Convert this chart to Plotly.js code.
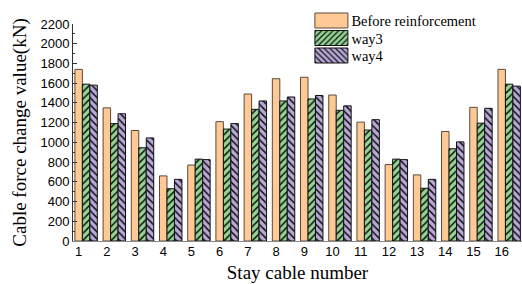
<!DOCTYPE html>
<html>
<head>
<meta charset="utf-8">
<script src="https://cdn.plot.ly/plotly-3.0.1.min.js"></script>
<style>html,body{margin:0;padding:0;background:#fff;}#chart{width:522px;height:284px;}</style>
</head>
<body>
<div id="chart"></div>
<script>
const cables = [1,2,3,4,5,6,7,8,9,10,11,12,13,14,15,16];
const before = [1740,1350,1120,660,770,1210,1490,1645,1660,1480,1205,775,670,1110,1355,1740];
const way3 = [1590,1190,945,530,830,1135,1335,1420,1440,1325,1125,830,535,935,1195,1590];
const way4 = [1580,1290,1045,625,825,1190,1420,1460,1475,1370,1230,825,625,1005,1345,1570];
const seriesNames = ['Before reinforcement','way3','way4'];
const tickLabels = cables.map(String);

const W = 0.265;
const traces = [
  {type:'bar', name:seriesNames[0], x:cables, y:before, width:W, offset:-W/2,
   marker:{color:'#FFC996', line:{color:'#5a4a3a', width:1}}},
  {type:'bar', name:seriesNames[1], x:cables, y:way3, width:W, offset:W/2,
   marker:{color:'#93D493', line:{color:'#111', width:1},
     pattern:{shape:'/', fgcolor:'#111', bgcolor:'#93D493', size:5, solidity:0.3}}},
  {type:'bar', name:seriesNames[2], x:cables, y:way4, width:W, offset:3*W/2,
   marker:{color:'#B8A8D8', line:{color:'#111', width:1},
     pattern:{shape:'\\', fgcolor:'#111', bgcolor:'#B8A8D8', size:5, solidity:0.3}}}
];

const serif = 'Liberation Serif, Times New Roman, serif';
const sans = 'Liberation Sans, Arial, sans-serif';
const layout = {
  width:522, height:284,
  margin:{l:73, r:0, t:24, b:43},
  paper_bgcolor:'#fff', plot_bgcolor:'#fff',
  barmode:'overlay',
  showlegend:true,
  legend:{x:0.531, y:1.07, xanchor:'left', yanchor:'top', bgcolor:'rgba(0,0,0,0)',
    font:{family:serif, size:14.5, color:'#000'},
    tracegroupgap:0, itemwidth:30},
  xaxis:{range:[0.8,16.72], tickvals:cables, ticktext:tickLabels, showgrid:false, zeroline:false,
    showline:true, linecolor:'#888', linewidth:1, ticks:'', ticklabelstandoff:-2,
    tickfont:{family:sans, size:13, color:'#000'},
    title:{text:'Stay cable number', font:{family:serif, size:19, color:'#000'}, standoff:8}},
  yaxis:{range:[0,2200], dtick:200, showgrid:false, zeroline:false,
    showline:true, linecolor:'#333', linewidth:1, ticks:'inside', ticklen:4, tickcolor:'#333',
    minor:{dtick:100, ticks:'inside', ticklen:2, tickcolor:'#333'},
    tickfont:{family:sans, size:13, color:'#000'},
    title:{text:'Cable force change value(kN)', font:{family:serif, size:19, color:'#000'}, standoff:8}}
};

const gd = document.getElementById('chart');
Plotly.newPlot(gd, traces, layout, {displayModeBar:false, staticPlot:true}).then(() => {
  const items = gd.querySelectorAll('.legend .traces');
  items.forEach((g, i) => {
    const p = g.querySelector('.legendpoints path');
    if (!p) return;
    p.setAttribute('d', 'M-16.5,-7.5H16.5V7.5H-16.5Z');
    const r = p.getBoundingClientRect();
    const cy = r.top + r.height / 2;
    const target = 20.5 + 17.5 * i;
    const tr = g.getAttribute('transform') || '';
    const m = tr.match(/translate\(\s*([-\d.e]+)[ ,]+([-\d.e]+)\s*\)/);
    const tx = m ? parseFloat(m[1]) : 0;
    const ty = m ? parseFloat(m[2]) : 0;
    g.setAttribute('transform', 'translate(' + tx + ',' + (ty + target - cy) + ')');
  });
});
</script>
</body>
</html>
